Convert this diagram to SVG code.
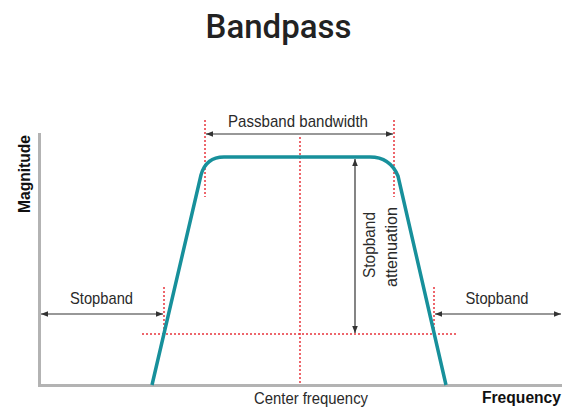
<svg xmlns="http://www.w3.org/2000/svg" width="564" height="411" viewBox="0 0 564 411">
<style>
.lbl{font-family:"Liberation Sans",Arial,sans-serif;font-size:17px;fill:#2a2a2a}
.bold{font-family:"Liberation Sans",Arial,sans-serif;font-size:16px;font-weight:bold;fill:#111}
.ref{stroke:#e8343c;stroke-width:1.5;stroke-dasharray:2 2;fill:none}
.arr{stroke:#333;stroke-width:1.2;fill:none;marker-start:url(#ah);marker-end:url(#ah)}
.axis{stroke:#b3b3b3;stroke-width:3;fill:none}
</style>
<defs>
<marker id="ah" viewBox="0 0 10 10" refX="10" refY="5" markerWidth="7" markerHeight="7" orient="auto-start-reverse" markerUnits="userSpaceOnUse">
<path d="M0,1 L10,5 L0,9 z" fill="#333"/>
</marker>
</defs>
<rect width="564" height="411" fill="#fff"/>
<g id="title">
<text x="278.5" y="38" text-anchor="middle" font-family="Roboto, 'Liberation Sans', sans-serif" font-size="33" font-weight="500" fill="#222">Bandpass</text>
</g>
<g id="axes">
<path class="axis" d="M39.5,133 V385.5 H562"/>
<text class="bold" transform="translate(30,174) rotate(-90)" text-anchor="middle" textLength="78" lengthAdjust="spacingAndGlyphs">Magnitude</text>
<text class="bold" x="482" y="403" textLength="79" lengthAdjust="spacingAndGlyphs">Frequency</text>
</g>
<g id="reference-lines">
<line class="ref" x1="205" y1="120" x2="205" y2="197"/>
<line class="ref" x1="394" y1="120" x2="394" y2="197"/>
<line class="ref" x1="300" y1="137" x2="300" y2="384"/>
<line class="ref" x1="164" y1="287" x2="164" y2="334"/>
<line class="ref" x1="434" y1="287" x2="434" y2="334"/>
<line class="ref" x1="142" y1="334" x2="458" y2="334"/>
</g>
<g id="curve">
<path d="M152,385 L201,175 Q206,157 224,157 L370,157 Q390,157 398,176 L446,385" fill="none" stroke="#17909b" stroke-width="3.5" stroke-linejoin="round"/>
</g>
<g id="connectors">
<line class="arr" x1="206" y1="134" x2="393" y2="134"/>
<line class="arr" x1="41" y1="314" x2="163" y2="314"/>
<line class="arr" x1="435" y1="314" x2="561" y2="314"/>
<line class="arr" x1="355" y1="159" x2="355" y2="333"/>
</g>
<g id="labels">
<text class="lbl" x="298" y="127" text-anchor="middle" textLength="140" lengthAdjust="spacingAndGlyphs">Passband bandwidth</text>
<text class="lbl" x="101.5" y="304" text-anchor="middle" textLength="63" lengthAdjust="spacingAndGlyphs">Stopband</text>
<text class="lbl" x="497" y="304" text-anchor="middle" textLength="63" lengthAdjust="spacingAndGlyphs">Stopband</text>
<text class="lbl" x="311" y="404" text-anchor="middle" textLength="114" lengthAdjust="spacingAndGlyphs">Center frequency</text>
<text class="lbl" transform="translate(375,245) rotate(-90)" text-anchor="middle" textLength="66" lengthAdjust="spacingAndGlyphs">Stopband</text>
<text class="lbl" transform="translate(397,247) rotate(-90)" text-anchor="middle" textLength="80" lengthAdjust="spacingAndGlyphs">attenuation</text>
</g>
</svg>
